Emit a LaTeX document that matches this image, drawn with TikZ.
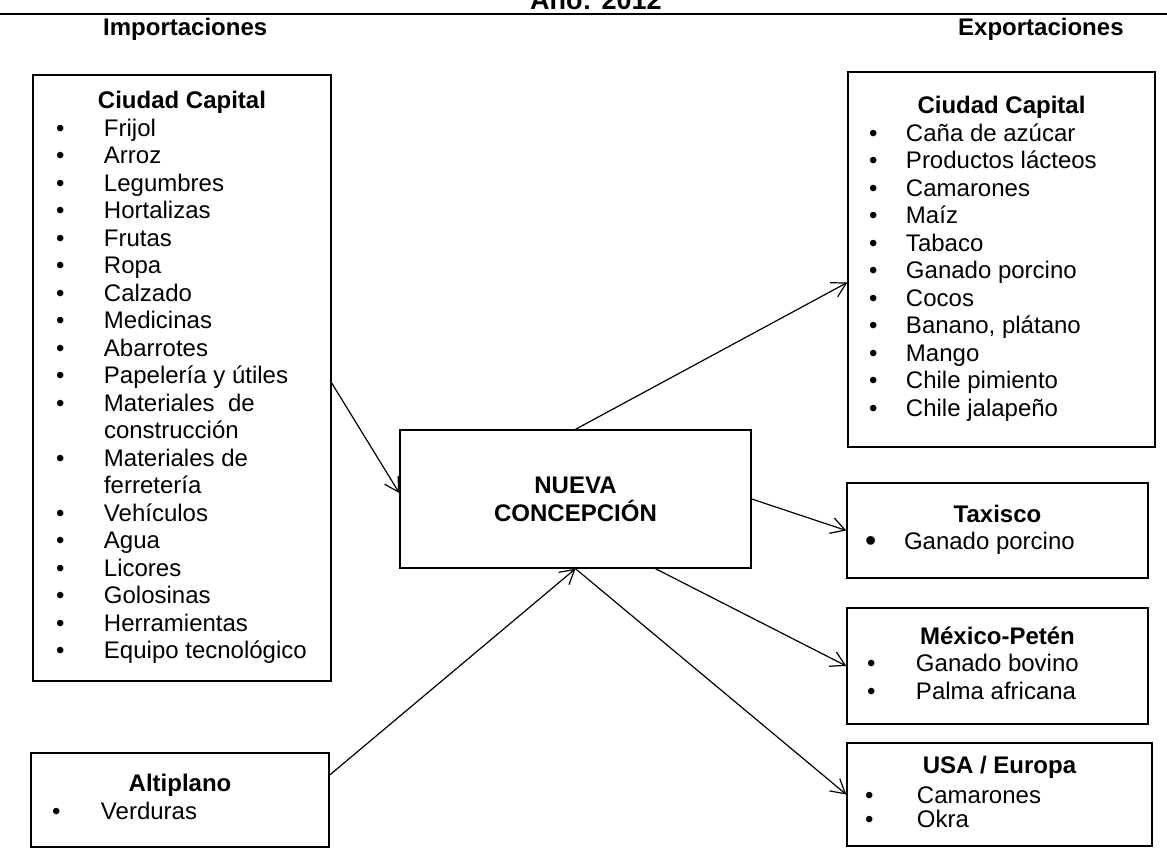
\documentclass[tikz,border=0pt]{standalone}
\usepackage{fontspec}
\setmainfont{Liberation Sans}
\usepackage{array}
\usetikzlibrary{arrows.meta}

\begin{document}
\begin{tikzpicture}[x=1pt, y=-1pt,
  box/.style={draw, line width=1.4pt, inner sep=0pt, font=\fontsize{24}{27.5}\selectfont},
  heading/.style={font=\fontsize{24}{28}\selectfont\bfseries, inner sep=0pt, anchor=base west},
  flow/.style={line width=1.2pt, -{Straight Barb[length=14pt, width=16pt]}}]
\useasboundingbox (0,0) rectangle (1167,848);

\node[heading, anchor=base, font=\fontsize{27}{30}\selectfont\bfseries] (anio) at (596,10) {Año: 2012};
\draw[line width=1.6pt] (0,14) -- (1167,14);
\node[heading] (imp) at (103,36) {Importaciones};
\node[heading] (exp) at (958,36) {Exportaciones};

% importaciones
\node[box, minimum width=298pt, minimum height=606pt] (impcap) at (182,378) {%
\begin{tabular}{@{\hspace{23pt}}p{48pt}@{}>{\raggedright\arraybackslash}p{227pt}@{}}
\multicolumn{2}{@{}c@{}}{\bfseries Ciudad Capital}\\
• & Frijol\\
• & Arroz\\
• & Legumbres\\
• & Hortalizas\\
• & Frutas\\
• & Ropa\\
• & Calzado\\
• & Medicinas\\
• & Abarrotes\\
• & Papelería y útiles\\
• & Materiales\ \ de\newline construcción\\
• & Materiales de\newline ferretería\\
• & Vehículos\\
• & Agua\\
• & Licores\\
• & Golosinas\\
• & Herramientas\\
• & Equipo tecnológico
\end{tabular}};
\node[box, minimum width=298pt, minimum height=94pt] (alt) at (180,800) {%
\begin{tabular}{@{\hspace{21pt}}p{49pt}@{}>{\raggedright\arraybackslash}p{228pt}@{}}
\multicolumn{2}{@{}c@{}}{\bfseries Altiplano}\\
• & Verduras
\end{tabular}};

% centro
\node[box, minimum width=351pt, minimum height=138pt, align=center,
  font=\fontsize{24}{28}\selectfont\bfseries] (nc) at (575.5,499) {NUEVA\\CONCEPCIÓN};

% exportaciones
\node[box, minimum width=307pt, minimum height=375pt] (expcap) at (1001.5,259.5) {%
\begin{tabular}{@{\hspace{21pt}}p{37pt}@{}>{\raggedright\arraybackslash}p{249pt}@{}}
\multicolumn{2}{@{}c@{}}{\bfseries Ciudad Capital}\\
• & Caña de azúcar\\
• & Productos lácteos\\
• & Camarones\\
• & Maíz\\
• & Tabaco\\
• & Ganado porcino\\
• & Cocos\\
• & Banano, plátano\\
• & Mango\\
• & Chile pimiento\\
• & Chile jalapeño
\end{tabular}};
\node[box, minimum width=301pt, minimum height=95pt] (tax) at (997.5,530.5) {%
\begin{tabular}{@{\hspace{18pt}}p{39pt}@{}>{\raggedright\arraybackslash}p{244pt}@{}}
\multicolumn{2}{@{}c@{}}{\bfseries Taxisco}\\
\raisebox{-2pt}{\fontsize{32}{27.5}\selectfont •} & Ganado porcino
\end{tabular}};
\node[box, minimum width=301pt, minimum height=116pt] (mex) at (997.5,666) {%
\begin{tabular}{@{\hspace{20pt}}p{49pt}@{}>{\raggedright\arraybackslash}p{232pt}@{}}
\multicolumn{2}{@{}c@{}}{\bfseries México-Petén}\\
• & Ganado bovino\\
• & Palma africana
\end{tabular}};
\node[box, minimum width=305pt, minimum height=103pt] (usa) at (999.5,794.5) {%
\begin{tabular}{@{\hspace{18pt}}p{52pt}@{}>{\raggedright\arraybackslash}p{235pt}@{}}
\multicolumn{2}{@{}c@{}}{\bfseries USA / Europa}\\[3pt]
• & Camarones\\[-4pt]
• & Okra
\end{tabular}};

% flechas
\draw[flow] ([yshift=-5pt]impcap.east) -- ([yshift=6pt]nc.west);
\draw[flow] ([yshift=25pt]alt.east) -- (nc.south);
\draw[flow] (nc.north) -- ([yshift=-23pt]expcap.west);
\draw[flow] (nc.east) -- (tax.west);
\draw[flow] ([xshift=80pt]nc.south) -- (mex.west);
\draw[flow] (nc.south) -- (usa.west);
\end{tikzpicture}
\end{document}
